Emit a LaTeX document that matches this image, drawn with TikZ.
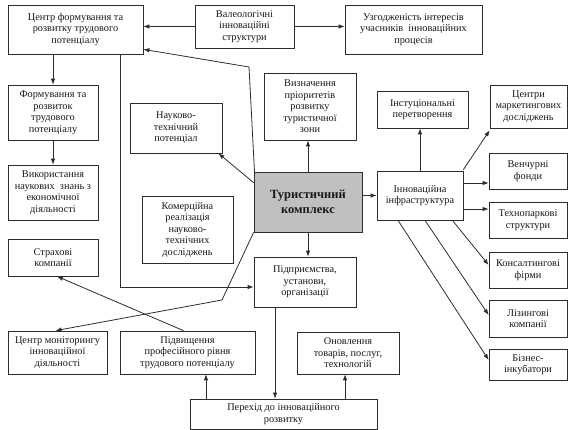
\documentclass[tikz,border=0pt]{standalone}
\usepackage{fontspec}
\setmainfont{Liberation Serif}
\usepackage{tikz}
\usetikzlibrary{positioning}
\usetikzlibrary{arrows.meta}
\usetikzlibrary{calc}
\definecolor{mygray}{RGB}{192,192,192}
\definecolor{myline}{RGB}{45,45,45}
\tikzset{
  link/.style={draw=myline, line width=0.8pt},
  sz/.style 2 args={minimum width=#1pt, minimum height=#2pt}
}

\begin{document}
\begin{tikzpicture}[x=1pt,y=-1pt]
	\useasboundingbox (0,0) rectangle (568,430);
	\begin{scope}[every node/.style={draw=myline, line width=0.7pt, fill=white, align=center, inner sep=0pt,
	              text=black!90, font=\fontsize{10.3}{11.5}\selectfont}]
	    \node (cfp) [sz={135}{49}] at (75.5,29.5) {Центр формування та\\розвитку трудового\\потенціалу};
	    \node (val) [sz={99}{43}] at (244.5,26.5) {Валеологічні\\інноваційні\\структури};
	    \node (uzg) [sz={137}{49}] at (413.5,29.5) {Узгодженість інтересів\\учасників\ \ інноваційних\\процесів};
	    \node (form) [sz={90}{55}] at (53,112.5) {Формування та\\розвиток\\трудового\\потенціалу};
	    \node (nauk) [sz={92}{50}] at (176,128) {Науково-\\технічний\\потенціал};
	    \node (vyzn) [sz={92}{67}] at (310,106.5) {Визначення\\пріоритетів\\розвитку\\туристичної\\зони};
	    \node (inst) [sz={91}{37}] at (422.5,109.5) {Інстуціональні\\перетворення};
	    \node (mark) [sz={77}{43}] at (528.5,106.5) {Центри\\маркетингових\\досліджень};
	    \node (tur) [sz={108}{60}, fill=mygray, font=\fontsize{12.5}{15}\selectfont\bfseries] at (308,202) {Туристичний\\комплекс};
	    \node (infra) [sz={86}{49}] at (420,195.5) {Інноваційна\\інфраструктура};
	    \node (ven) [sz={78}{36}] at (528,171) {Венчурні\\фонди};
	    \node (tech) [sz={78}{36}] at (528,220) {Технопаркові\\структури};
	    \node (kons) [sz={78}{36}] at (528,270) {Консалтингові\\фірми};
	    \node (liz) [sz={78}{37}] at (528,318.5) {Лізингові\\компанії};
	    \node (biz) [sz={78}{31}] at (528,364.5) {Бізнес-\\інкубатори};
	    \node (vyk) [sz={90}{55}] at (53,192.5) {Використання\\наукових\ \ знань з\\економічної\\діяльності};
	    \node (kom) [sz={91}{67}] at (187.5,229.5) {Комерційна\\реалізація\\науково-\\технічних\\досліджень};
	    \node (strah) [sz={90}{37}] at (53,257.5) {Страхові\\компанії};
	    \node (pidpr) [sz={102}{50}] at (305,282) {Підприємства,\\установи,\\організації};
	    \node (mon) [sz={99}{43}] at (57.5,352.5) {Центр моніторингу\\інноваційної\\діяльності};
	    \node (pidv) [sz={135}{43}] at (187.5,352.5) {Підвищення\\професійного рівня\\трудового потенціалу};
	    \node (onov) [sz={102}{42}] at (348,353) {Оновлення\\товарів, послуг,\\технологій};
	    \node (per) [sz={187}{30}] at (283.5,414) {Перехід до інноваційного\\розвитку};
	\end{scope}

	\coordinate (k1) at (249,67);
	\coordinate (k2) at (222,300);
	\coordinate (xc) at (120,0);
	\coordinate (yp) at (0,287);
	\coordinate (xd) at (275,0);
	\coordinate (xa) at (206,0);
	\coordinate (xb) at (345,0);
	\coordinate (yv) at (0,183);
	\coordinate (yt) at (0,209);

	\begin{scope}[>={Latex[length=6pt,width=4.5pt]},
	              every edge/.style={link}]
	    \path [->] (val.west) edge (val.west -| cfp.east);
	    \path [->] (val.east) edge (val.east -| uzg.west);
	    \path [->] (form.north |- cfp.south) edge (form.north);
	    \path [->] (form.south) edge (vyk.north);
	    \draw [link,->] (xc |- cfp.south) |- (pidpr.west |- yp);
	    \draw [link,->] ([xshift=1pt,yshift=-3pt]tur.north west) -- (k1) -- ([yshift=5pt]cfp.south east);
	    \path [->] ([yshift=-11pt]tur.north west) edge ([xshift=-4pt]nauk.south east);
	    \path [->] (tur.north) edge (tur.north |- vyzn.south);
	    \path [->] (tur.east |- infra.west) edge (infra.west);
	    \path [->] (tur.south) edge (tur.south |- pidpr.north);
	    \draw [link,->] (tur.south west) -- (k2) -- ([xshift=-2pt]mon.north);
	    \path [->] ([xshift=-4pt]pidv.north) edge ([xshift=4pt]strah.south);
	    \path [->] (xd |- pidpr.south) edge (xd |- per.north);
	    \path [->] (xa |- per.north) edge (xa |- pidv.south);
	    \path [->] (xb |- per.north) edge (xb |- onov.south);
	    \path [->] (infra.north) edge (infra.north |- inst.south);
	    \path [->] ([yshift=1pt]infra.north east) edge ([yshift=-2pt]mark.south west);
	    \path [->] (infra.east |- yv) edge (ven.west |- yv);
	    \path [->] (infra.east |- yt) edge (tech.west |- yt);
	    \path [->] ([xshift=-11pt]infra.south east) edge ([yshift=5pt]kons.west);
	    \path [->] ([xshift=5pt]infra.south) edge ([yshift=3.5pt]liz.west);
	    \path [->] ([xshift=-22pt]infra.south) edge ([yshift=4.5pt]biz.west);
	\end{scope}
\end{tikzpicture}
\end{document}
